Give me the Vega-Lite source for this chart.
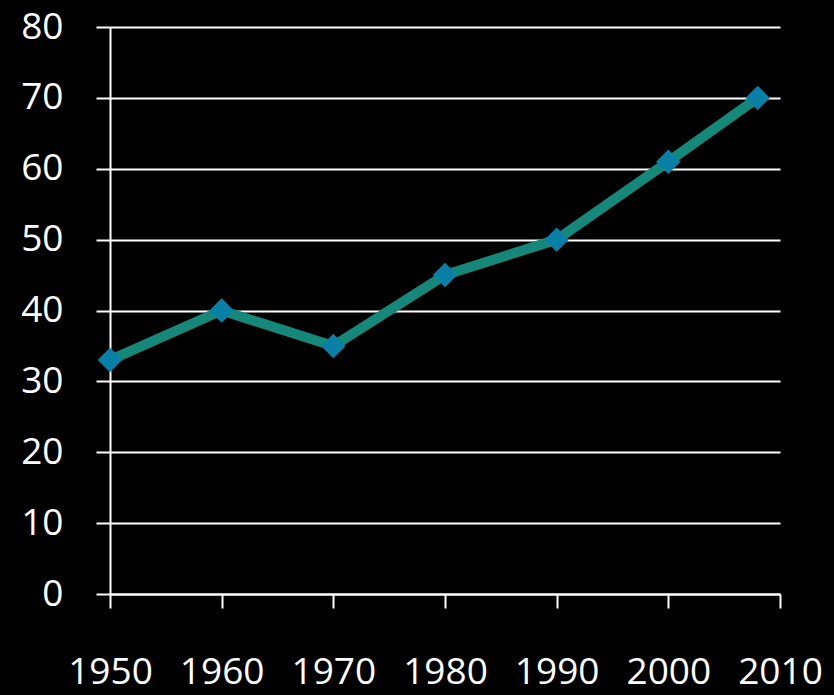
{
  "$schema": "https://vega.github.io/schema/vega-lite/v6.json",
  "width": 670,
  "height": 567,
  "autosize": "none",
  "padding": {"left": 110, "top": 27, "right": 54, "bottom": 101},
  "background": "#000000",
  "config": {
    "view": {"stroke": null},
    "axis": {
      "labelFont": "Open Sans",
      "labelColor": "#ffffff",
      "labelFontSize": 37,
      "domainColor": "#ffffff",
      "domainWidth": 2,
      "tickColor": "#ffffff",
      "tickWidth": 2,
      "tickSize": 14,
      "gridColor": "#ffffff",
      "gridWidth": 2,
      "gridOpacity": 1,
      "title": null
    }
  },
  "data": {
    "values": [
      {"year": 1950, "value": 33},
      {"year": 1960, "value": 40},
      {"year": 1970, "value": 35},
      {"year": 1980, "value": 45},
      {"year": 1990, "value": 50},
      {"year": 2000, "value": 61},
      {"year": 2008, "value": 70}
    ]
  },
  "layer": [
    {
      "mark": {"type": "line", "color": "#16887a", "strokeWidth": 10},
      "encoding": {
        "x": {
          "field": "year",
          "type": "quantitative",
          "scale": {"domain": [1950, 2010], "nice": false, "zero": false},
          "axis": {
            "values": [1950, 1960, 1970, 1980, 1990, 2000, 2010],
            "format": "d",
            "grid": false,
            "labelPadding": 64,
            "labelBaseline": "middle",
            "labelFlush": false
          }
        },
        "y": {
          "field": "value",
          "type": "quantitative",
          "scale": {"domain": [0, 80], "nice": false},
          "axis": {
            "values": [0, 10, 20, 30, 40, 50, 60, 70, 80],
            "grid": true,
            "labelPadding": 33
          }
        }
      }
    },
    {
      "mark": {"type": "point", "shape": "diamond", "filled": true, "size": 600, "color": "#0a80a6", "opacity": 1},
      "encoding": {
        "x": {"field": "year", "type": "quantitative"},
        "y": {"field": "value", "type": "quantitative"}
      }
    }
  ]
}
